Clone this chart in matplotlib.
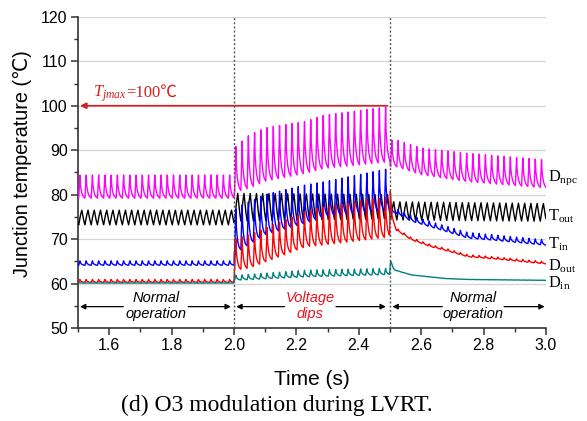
import numpy as np
import matplotlib
matplotlib.use("Agg")
import matplotlib.pyplot as plt

plt.rcParams["mathtext.fontset"] = "custom"
plt.rcParams["mathtext.rm"] = "Liberation Serif"
plt.rcParams["mathtext.it"] = "Liberation Serif:italic"

SANS = ["Liberation Sans", "DejaVu Sans"]
SERIF = ["Liberation Serif", "Noto Sans CJK SC", "DejaVu Sans"]

# ripple period (s) and one-cycle shapes (0 = trough, 1 = peak)
PERIOD = 0.02
spike_phase = [0.0, 0.1, 0.2, 0.26, 0.35, 0.5, 0.7, 1.0]
spike_level = [0.0, 0.45, 1.0, 0.62, 0.42, 0.22, 0.08, 0.0]
wave_phase = [0.0, 0.25, 0.5, 0.75, 1.0]
wave_level = [0.0, 0.6, 1.0, 0.4, 0.0]

# envelopes (time, trough, peak) for each trace
npc_t = [1.5, 2.0, 2.001, 2.05, 2.1, 2.23, 2.29, 2.499, 2.502, 2.52, 2.6, 2.75, 3.0]
npc_lo = [79.2, 79.2, 80.5, 81.5, 83.0, 84.8, 85.9, 87.4, 86.3, 86.3, 84.5, 82.9, 81.5]
npc_hi = [84.4, 84.4, 90.5, 93.5, 95.0, 96.5, 97.9, 99.8, 92.3, 92.3, 90.5, 89.3, 87.8]

tout_t = [1.5, 2.0, 2.001, 2.5, 2.501, 3.0]
tout_lo = [73.2, 73.2, 74.0, 74.6, 74.3, 74.0]
tout_hi = [76.5, 76.5, 80.3, 80.0, 78.4, 78.0]

tin_t = [1.5, 2.0, 2.001, 2.02, 2.1, 2.23, 2.29, 2.499, 2.502, 2.52, 2.57, 2.68, 2.75, 2.84, 3.0]
tin_lo = [64.1, 64.1, 67.0, 67.5, 71.0, 73.6, 75.0, 76.5, 76.0, 75.8, 74.0, 71.7, 70.2, 69.7, 68.6]
tin_hi = [65.1, 65.1, 76.5, 77.5, 80.0, 82.2, 82.9, 85.9, 77.0, 76.8, 75.2, 72.9, 71.5, 70.9, 69.8]

dout_t = [1.5, 2.0, 2.001, 2.05, 2.23, 2.29, 2.499, 2.501, 2.506, 2.52, 2.57, 2.63, 2.68, 2.75, 2.84, 3.0]
dout_lo = [60.25, 60.25, 63.0, 63.5, 68.3, 68.7, 70.5, 81.0, 75.0, 72.0, 69.8, 68.3, 67.4, 66.0, 65.5, 64.4]
dout_hi = [60.9, 60.9, 70.0, 71.0, 76.2, 77.3, 79.5, 82.2, 75.6, 72.5, 70.3, 68.8, 67.9, 66.5, 66.0, 64.9]

din_t = [1.5, 2.0, 2.001, 2.02, 2.23, 2.49, 2.499, 2.502, 2.51, 2.516, 2.57, 2.68, 2.75, 3.0]
din_lo = [60.1, 60.1, 60.8, 60.8, 61.5, 62.0, 62.0, 65.0, 63.5, 63.0, 61.9, 61.1, 60.9, 60.7]
din_hi = [60.15, 60.15, 61.9, 61.9, 63.0, 63.4, 63.4, 65.3, 63.6, 63.05, 61.95, 61.15, 60.95, 60.75]

traces = [
    ("npc", npc_t, npc_lo, npc_hi, "spike", "#ff00ff"),
    ("tout", tout_t, tout_lo, tout_hi, "wave", "#000000"),
    ("tin", tin_t, tin_lo, tin_hi, "spike", "#0000ff"),
    ("dout", dout_t, dout_lo, dout_hi, "spike", "#ff0000"),
    ("din", din_t, din_lo, din_hi, "spike", "#008080"),
]

# right-hand labels: (text, baseline value)
label_text = [r"D$_{\rm npc}$", r"T$_{\rm out}$", r"T$_{\rm in}$", r"D$_{\rm out}$", r"D$_{\rm in}$"]
label_y = [83.1, 74.1, 67.9, 62.8, 59.1]

# phase annotations: (text, colour, left head, left end, right start, right head)
phases = [
    ("Normal\noperation", "black", 1.506, 1.645, 1.853, 1.99),
    ("Voltage\ndips", "#e8141e", 2.007, 2.162, 2.327, 2.487),
    ("Normal\noperation", "black", 2.508, 2.668, 2.866, 2.996),
]


def build(t, knot_t, lo, hi, shape):
    if shape == "spike":
        xs, ys = spike_phase, spike_level
    else:
        xs, ys = wave_phase, wave_level
    phase = ((t - 1.502) / PERIOD) % 1.0
    r = np.interp(phase, xs, ys)
    low = np.interp(t, knot_t, lo)
    high = np.interp(t, knot_t, hi)
    return low + (high - low) * r


def main():
    fig = plt.figure(figsize=(5.87, 4.21), dpi=100)
    ax = fig.add_axes([0.133, 0.221, 0.797, 0.739])

    t = np.arange(1.5, 3.0 + 1e-9, 0.0004)
    for name, kt, lo, hi, shape, color in traces:
        ax.plot(t, build(t, kt, lo, hi, shape), color=color, lw=1.0, zorder=3)

    ax.set_xlim(1.5, 3.0)
    ax.set_ylim(50, 120)
    ax.set_xticks(np.arange(1.6, 3.01, 0.2))
    ax.set_xticks(np.arange(1.5, 3.01, 0.1), minor=True)
    ax.set_yticks(np.arange(50, 121, 10))
    ax.set_yticks(np.arange(55, 120, 10), minor=True)
    ax.xaxis.set_major_formatter(matplotlib.ticker.FormatStrFormatter("%.1f"))
    ax.tick_params(which="major", direction="out", length=5, width=1.1,
                   labelsize=11.5, color="#333333", pad=2.5)
    ax.tick_params(which="minor", direction="out", length=3, width=1.0, color="#333333")
    for lab in ax.get_xticklabels() + ax.get_yticklabels():
        lab.set_family(SANS)
    for s in ("top", "right"):
        ax.spines[s].set_visible(False)
    for s in ("left", "bottom"):
        ax.spines[s].set_linewidth(1.2)
        ax.spines[s].set_color("#333333")
    ax.yaxis.grid(True, color="#d4d4d4", lw=0.9)
    ax.set_axisbelow(True)

    for x in (2.0, 2.5):
        ax.axvline(x, color="#555555", ls=(0, (1.5, 1.5)), lw=1.0, zorder=4)

    # Tjmax marker
    ax.annotate("", xy=(1.506, 100), xytext=(2.492, 100),
                arrowprops=dict(arrowstyle="-|>", color="#d42020", lw=1.2,
                                mutation_scale=9, shrinkA=0, shrinkB=0), zorder=5)
    tj = ax.text(1.547, 102.1, r"$T_{jmax}$", color="#d42020", fontsize=12,
                 va="baseline")
    fig.canvas.draw()
    x_end = ax.transData.inverted().transform((tj.get_window_extent().x1, 0))[0]
    ax.text(x_end, 102.1, "=100℃", color="#d42020", fontsize=12,
            family=SERIF, va="baseline")

    for text, color, a, b, c, d in phases:
        for start, end in ((b, a), (c, d)):
            ax.annotate("", xy=(end, 54.8), xytext=(start, 54.8),
                        arrowprops=dict(arrowstyle="-|>", color="black", lw=0.9,
                                        mutation_scale=8, shrinkA=0, shrinkB=0))
        ax.text((b + c) / 2, 55.0, text, color=color, fontsize=10.5, style="italic",
                family=SANS, ha="center", va="center", linespacing=1.15)

    for text, y in zip(label_text, label_y):
        ax.text(3.006, y, text, fontsize=11.8, family=SERIF, va="baseline",
                clip_on=False)

    ax.set_xlabel("Time (s)", fontsize=15, family=SANS)
    ax.xaxis.set_label_coords(0.5, -0.135)
    ax.set_ylabel("Junction temperature (℃)", fontsize=14.2, family=SANS)
    ax.yaxis.set_label_coords(-0.098, 0.529)
    fig.text(0.472, 0.038, "(d) O3 modulation during LVRT.", fontsize=17,
             family=SERIF, ha="center", va="center")

    fig.savefig("out.png", dpi=100)


if __name__ == "__main__":
    main()
